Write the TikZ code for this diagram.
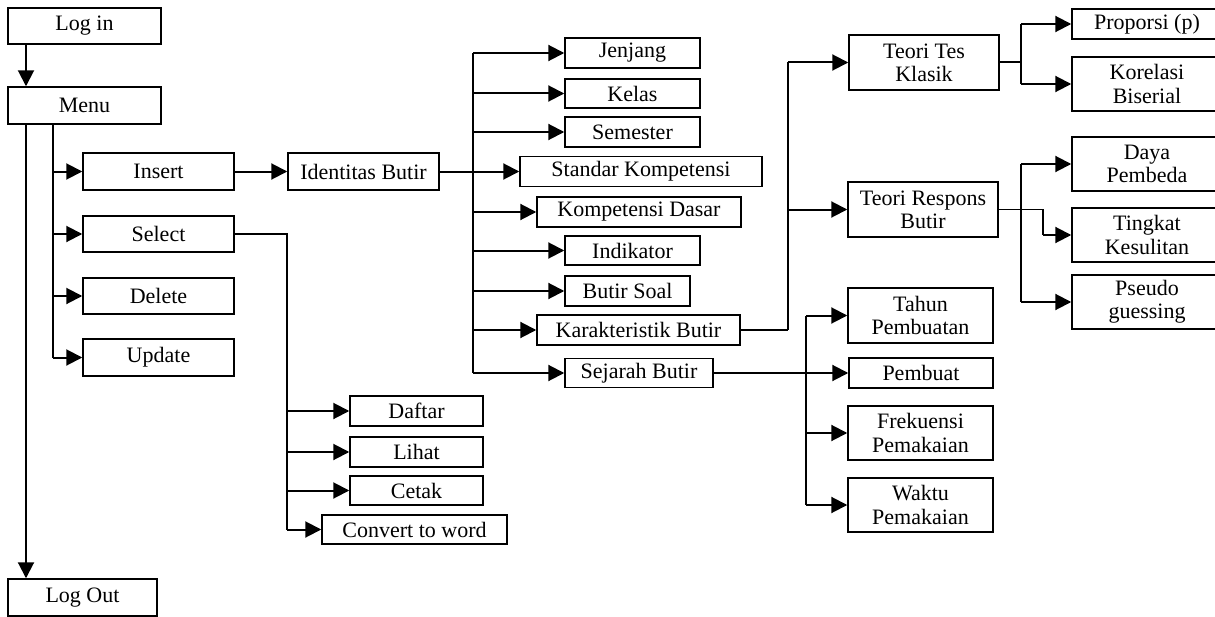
\documentclass[tikz,border=0pt]{standalone}
\usepackage{fontspec}
\setmainfont{Liberation Serif}
\usetikzlibrary{arrows.meta,calc}
\begin{document}
\begin{tikzpicture}[x=0.75pt,y=-0.75pt,
  box/.style={draw,line width=1.1pt,inner sep=0pt,align=center,font=\fontsize{16.5}{17.5}\selectfont},
  conn/.style={line width=1.5pt},
  thinconn/.style={line width=0.9pt},
  arr/.style={line width=1.5pt,-{Triangle[length=12pt,width=12pt]}}]
\useasboundingbox (0,0) rectangle (1215,617);
\newcommand\bx[6]{\node[box,minimum width=#4*0.75pt,minimum height=#5*0.75pt] (#1) at (#2,#3) {#6};}
% left column
\bx{login}{84.5}{26}{153}{36}{Log in}
\bx{menu}{84.5}{105.5}{153}{37}{Menu}
\bx{insert}{158.5}{171.5}{151}{37}{Insert}
\bx{select}{158.5}{234}{151}{36}{Select}
\bx{delete}{158.5}{296}{151}{36}{Delete}
\bx{update}{158.5}{357.5}{151}{37}{Update}
\bx{logout}{82.5}{597.5}{149}{37}{Log Out}
% select children
\bx{daftar}{416.5}{411}{133}{30}{Daftar}
\bx{lihat}{416.5}{452}{133}{30}{Lihat}
\bx{cetak}{416.5}{490.5}{133}{29}{Cetak}
\bx{convert}{414.5}{529.5}{185}{29}{Convert to word}
% identitas
\bx{identitas}{363.5}{171.5}{151}{37}{Identitas Butir}
\bx{jenjang}{632.5}{53}{135}{30}{Jenjang}
\bx{kelas}{632.5}{93.5}{135}{29}{Kelas}
\bx{semester}{632.5}{132}{135}{30}{Semester}
\bx{standar}{641}{171.5}{242}{30}{Standar Kompetensi}
\bx{kompdasar}{639}{212}{204}{30}{Kompetensi Dasar}
\bx{indikator}{632.5}{250.5}{135}{29}{Indikator}
\bx{butirsoal}{627.5}{291}{125}{30}{Butir Soal}
\bx{karakt}{638.5}{330}{203}{30}{Karakteristik Butir}
\bx{sejarah}{639}{373}{148}{29}{Sejarah Butir}
% karakteristik
\bx{tes}{924}{62.5}{150}{55}{Teori Tes\\Klasik}
\bx{respons}{923}{209.5}{150}{55}{Teori Respons\\Butir}
\bx{proporsi}{1147}{24}{150}{30}{Proporsi (p)}
\bx{korelasi}{1147}{84}{150}{54}{Korelasi\\Biserial}
\bx{daya}{1147}{164}{150}{54}{Daya\\Pembeda}
\bx{tingkat}{1147}{235}{150}{54}{Tingkat\\Kesulitan}
\bx{pseudo}{1147}{302}{150}{54}{Pseudo\\guessing}
% sejarah
\bx{tahun}{920.5}{315.5}{145}{55}{Tahun\\Pembuatan}
\bx{pembuat}{921}{373}{144}{30}{Pembuat}
\bx{frek}{920.5}{433}{145}{54}{Frekuensi\\Pemakaian}
\bx{waktu}{920.5}{505}{145}{54}{Waktu\\Pemakaian}
% bus coordinates
\coordinate (m1) at (26,0);
\coordinate (m2) at (53,0);
\coordinate (sb) at (287,0);
\coordinate (ib) at (473,0);
\coordinate (kb) at (788,0);
\coordinate (tb) at (1021,0);
\coordinate (rb) at (1043,0);
\coordinate (sj) at (806,0);
% menu
\draw[arr] (login.south -| m1) -- (menu.north -| m1);
\draw[arr] (menu.south -| m1) -- (logout.north -| m1);
\draw[conn] (menu.south -| m2) -- (update.west -| m2);
\foreach \n in {insert,select,delete,update}
  \draw[arr] (\n.west -| m2) -- (\n.west);
% insert
\draw[arr] (insert.east) -- (identitas.west);
% select
\draw[thinconn] (select.east) -- (select.east -| sb) -- (convert.west -| sb);
\foreach \n in {daftar,lihat,cetak,convert}
  \draw[arr] (\n.west -| sb) -- (\n.west);
% identitas
\draw[arr] (identitas.east) -- (standar.west);
\draw[conn] (jenjang.west -| ib) -- (sejarah.west -| ib);
\foreach \n in {jenjang,kelas,semester,kompdasar,indikator,butirsoal,karakt,sejarah}
  \draw[arr] (\n.west -| ib) -- (\n.west);
% karakteristik
\draw[thinconn] (karakt.east) -- (karakt.east -| kb);
\draw[conn] (karakt.east -| kb) -- (tes.west -| kb);
\draw[arr] (tes.west -| kb) -- (tes.west);
\draw[arr] (respons.west -| kb) -- (respons.west);
% teori tes
\draw[conn] (tes.east) -- (tes.east -| tb);
\draw[conn] (proporsi.west -| tb) -- (korelasi.west -| tb);
\draw[arr] (proporsi.west -| tb) -- (proporsi.west);
\draw[arr] (korelasi.west -| tb) -- (korelasi.west);
% teori respons
\draw[thinconn] (respons.east) -- (respons.east -| rb) -- (tingkat.west -| rb);
\draw[arr] (tingkat.west -| rb) -- (tingkat.west);
\draw[conn] (daya.west -| tb) -- (pseudo.west -| tb);
\draw[arr] (daya.west -| tb) -- (daya.west);
\draw[arr] (pseudo.west -| tb) -- (pseudo.west);
% sejarah
\draw[arr] (sejarah.east) -- (pembuat.west);
\draw[conn] (tahun.west -| sj) -- (waktu.west -| sj);
\draw[arr] (tahun.west -| sj) -- (tahun.west);
\draw[arr] (frek.west -| sj) -- (frek.west);
\draw[arr] (waktu.west -| sj) -- (waktu.west);
\end{tikzpicture}
\end{document}
